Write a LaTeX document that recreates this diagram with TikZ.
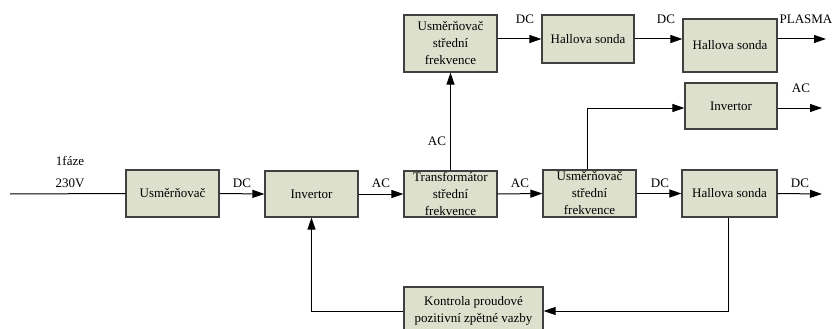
\documentclass[tikz,border=0pt]{standalone}
\usepackage{fontspec}
\setmainfont{Liberation Serif}
\usetikzlibrary{arrows.meta}
\definecolor{boxfill}{RGB}{221,224,204}
\definecolor{boxline}{RGB}{64,64,64}
\tikzset{
  blk/.style={draw=boxline, fill=boxfill, line width=1.2pt, align=center,
    inner sep=0pt, font=\fontsize{13}{17}\selectfont},
  conn/.style={line width=1pt, -{Triangle[length=12pt,width=8pt]}},
  plain/.style={line width=1pt},
  lbl/.style={font=\fontsize{13}{15}\selectfont, inner sep=0pt}
}
\begin{document}
\begin{tikzpicture}[x=1pt,y=-1pt]
\useasboundingbox (0,0) rectangle (832,329);
% boxes
\node[blk, minimum width=93pt, minimum height=47pt] (u1) at (172.5,193.5) {Usměrňovač};
\node[blk, minimum width=93pt, minimum height=46pt] (inv) at (311.5,194) {Invertor};
\node[blk, minimum width=93pt, minimum height=46pt] (tr) at (450.5,194) {Transformátor\\střední\\frekvence};
\node[blk, minimum width=93pt, minimum height=47pt] (usf) at (589.5,193.5) {Usměrňovač\\střední\\frekvence};
\node[blk, minimum width=95pt, minimum height=47pt] (hs) at (729.5,193.5) {Hallova sonda};
\node[blk, minimum width=92pt, minimum height=46pt] (inv2) at (731,106) {Invertor};
\node[blk, minimum width=93pt, minimum height=57pt] (usf2) at (450.5,43.5) {Usměrňovač\\střední\\frekvence};
\node[blk, minimum width=92pt, minimum height=48pt] (hs1) at (588,39) {Hallova sonda};
\node[blk, minimum width=94pt, minimum height=53pt] (hs2) at (730,45.5) {Hallova sonda};
\node[blk, minimum width=139pt, minimum height=48pt] (kon) at (473.5,311) {Kontrola proudové\\pozitivní zpětné vazby};
% coordinates
\coordinate (in) at (10,194);
\coordinate (outdc) at (822,194);
\coordinate (outac) at (822,108);
\coordinate (outpl) at (826,39);
\coordinate (ac2) at (587,108);
% connectors
\draw[plain] (in) -- (u1.west);
\draw[conn] (u1.east) -- (inv.west);
\draw[conn] (inv.east) -- (tr.west);
\draw[conn] (tr.east) -- (usf.west);
\draw[conn] (usf.east) -- (hs.west);
\draw[conn] (hs.east) -- (outdc);
\draw[conn] (tr.north) -- (usf2.south);
\draw[conn] (usf2.east |- hs1.west) -- (hs1.west);
\draw[conn] (hs1.east) -- (hs1.east -| hs2.west);
\draw[conn] (hs1.east -| hs2.east) -- (outpl);
\draw[plain] (usf.north -| ac2) -- (ac2);
\draw[conn] (ac2) -- (ac2 -| inv2.west);
\draw[conn] (ac2 -| inv2.east) -- (outac);
\draw[conn] ([xshift=-1.5pt]hs.south) |- (kon.east);
\draw[conn] (kon.west) -| (inv.south);
% labels
\node[lbl] (l1) at (70,161) {1fáze};
\node[lbl] (l2) at (70,183) {230V};
\node[lbl] (l3) at (242,183) {DC};
\node[lbl] (l4) at (381,183) {AC};
\node[lbl] (l5) at (520,183) {AC};
\node[lbl] (l6) at (660,183) {DC};
\node[lbl] (l7) at (800,183) {DC};
\node[lbl] (l8) at (437,141) {AC};
\node[lbl] (l9) at (801,88) {AC};
\node[lbl] (l10) at (525,19) {DC};
\node[lbl] (l11) at (666,19) {DC};
\node[lbl] (l12) at (806,19) {PLASMA};
\end{tikzpicture}
\end{document}
